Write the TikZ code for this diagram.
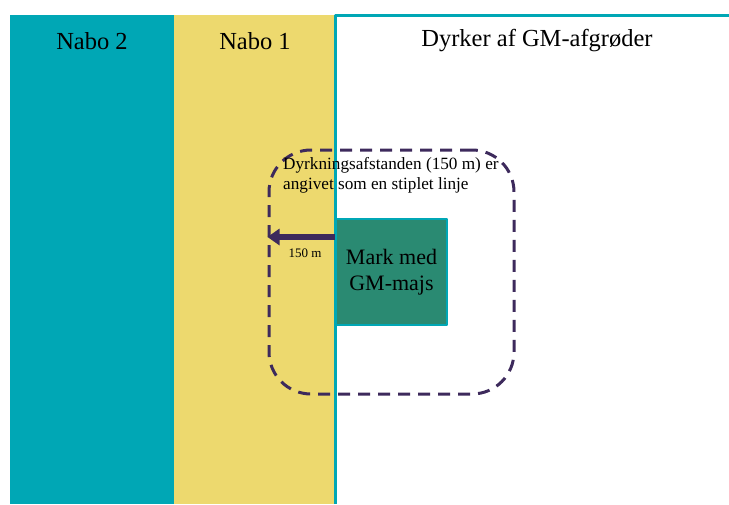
\documentclass[tikz,border=0pt]{standalone}
\usepackage{fontspec}
\setmainfont{Liberation Serif}
\usetikzlibrary{arrows.meta}
\usetikzlibrary{positioning}
\definecolor{tealband}{HTML}{00A7B5}
\definecolor{yellowband}{HTML}{EDD96E}
\definecolor{markgreen}{HTML}{2A8A72}
\definecolor{zonepurple}{HTML}{3D2A5C}
\tikzset{
  title/.style={font=\fontsize{24.5}{28}\selectfont},
  zone/.style={draw=zonepurple,line width=3pt,dash pattern=on 12pt off 8pt,rounded corners=42pt,minimum width=245pt,minimum height=244pt},
  markbox/.style={fill=markgreen,draw=tealband,line width=2pt,minimum width=111pt,minimum height=106pt,align=center,font=\fontsize{22}{26}\selectfont},
  note/.style={align=left,inner sep=0pt,font=\fontsize{17.2}{20.5}\selectfont},
  dist/.style={inner sep=0pt,font=\fontsize{13}{14}\selectfont},
  distarrow/.style={zonepurple,line width=5.5pt,-{Triangle[length=12pt,width=16pt]}}
}
\begin{document}
\begin{tikzpicture}[line join=round,x=1pt,y=-1pt]
\useasboundingbox (0,0) rectangle (729,504);
\fill[tealband] (10,15) rectangle (174,504);
\fill[yellowband] (174,15) rectangle (335,504);
\draw[tealband,line width=3pt] (335,504) -- (335,15) -- (729,15);
% titles
\node[title] (nabo2) at (92,41) {Nabo 2};
\node[title] (nabo1) at (255,41) {Nabo 1};
\node[title] (dyrker) at (537,41) {Dyrker af GM-afgrøder};
% zone and field
\node[zone] (zone) at (391.5,272) {};
\node[markbox] (mark) at (391.5,272) {Mark med\\GM-majs};
\node[note,anchor=north west] (note) at (283,157) {Dyrkningsafstanden (150 m) er\\angivet som en stiplet linje};
\coordinate (start) at (335,237);
\draw[distarrow] (start) -- (start -| zone.west);
\node[dist] (afstand) at (305,253) {150 m};
\end{tikzpicture}
\end{document}
